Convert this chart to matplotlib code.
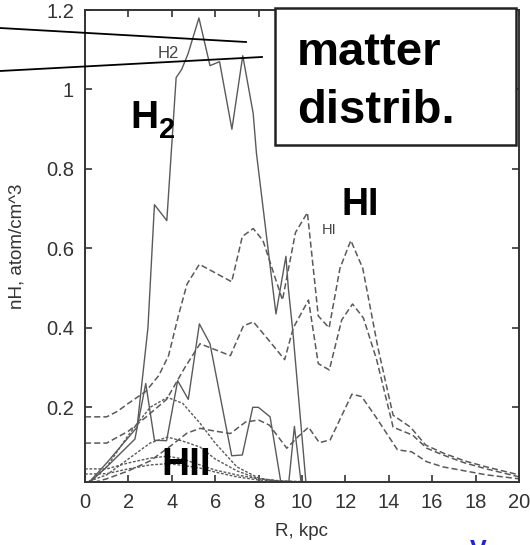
import matplotlib.pyplot as plt
from matplotlib.lines import Line2D
from matplotlib.patches import Rectangle

plt.rcParams['font.family'] = ['Liberation Sans', 'DejaVu Sans']

# H2 (solid lines)
h2_main_r = [0, 1.0, 2.4, 2.9, 3.2, 3.77, 4.2, 4.45, 4.75, 5.25, 5.76, 6.2, 6.77, 7.27,
             7.75, 7.9, 8.8, 9.26, 9.37, 9.58, 10.2]
h2_main_n = [0.0, 0.06, 0.15, 0.40, 0.71, 0.67, 1.03, 1.05, 1.09, 1.18, 1.06, 1.07, 0.90, 1.085,
             0.94, 0.84, 0.435, 0.58, 0.50, 0.39, 0.0]
h2_small_r = [0, 1.0, 2.3, 2.8, 3.2, 3.76, 4.27, 4.76, 5.27, 5.76, 6.76, 7.25, 7.73, 7.99,
              8.53, 9.06, 9.37, 9.65, 9.98]
h2_small_n = [0.0, 0.05, 0.12, 0.26, 0.117, 0.116, 0.267, 0.22, 0.41, 0.36, 0.078, 0.08, 0.20, 0.20,
              0.176, 0.0, 0.0, 0.152, 0.0]

# HI (dashed lines)
hi_top_r = [0, 1.0, 1.5, 2.0, 2.8, 3.4, 3.85, 4.3, 4.7, 5.27, 6.76, 7.25, 7.75, 8.2, 9.1, 9.7,
            10.25, 10.75, 11.25, 11.75, 12.25, 12.8, 13.5, 14.2, 15.0, 15.7, 16.5, 17.5, 18.5, 20]
hi_top_n = [0.176, 0.176, 0.19, 0.21, 0.24, 0.28, 0.33, 0.43, 0.51, 0.56, 0.516, 0.63, 0.65, 0.62,
            0.47, 0.64, 0.69, 0.43, 0.40, 0.55, 0.62, 0.55, 0.35, 0.18, 0.15, 0.105, 0.085, 0.065,
            0.05, 0.03]
hi_mid_r = [0, 1.0, 2.0, 2.8, 3.76, 4.6, 5.3, 6.7, 7.3, 7.76, 8.3, 9.2, 9.6, 10.3, 10.75, 11.26,
            11.83, 12.33, 12.83, 13.44, 14.2, 15.1, 15.75, 16.5, 17.5, 18.5, 20]
hi_mid_n = [0.11, 0.11, 0.14, 0.175, 0.22, 0.30, 0.36, 0.33, 0.405, 0.415, 0.38, 0.32, 0.40, 0.47,
            0.31, 0.294, 0.42, 0.46, 0.425, 0.32, 0.15, 0.13, 0.097, 0.08, 0.06, 0.045, 0.025]
hi_low_r = [0, 1.0, 2.0, 3.0, 4.0, 4.7, 5.3, 6.0, 6.7, 7.4, 8.0, 8.5, 9.3, 9.8, 10.3, 10.8, 11.3,
            12.3, 12.75, 13.4, 14.4, 15.05, 15.75, 16.5, 17.5, 18.5, 20]
hi_low_n = [0.005, 0.02, 0.04, 0.065, 0.105, 0.135, 0.147, 0.14, 0.134, 0.163, 0.168, 0.155, 0.097,
            0.125, 0.15, 0.111, 0.118, 0.233, 0.227, 0.176, 0.093, 0.088, 0.063, 0.05, 0.04, 0.03,
            0.02]

# HII (fine dashed lines)
hii_r = [0, 1, 2, 3, 3.8, 4.5, 5.3, 6, 7, 8, 9, 10, 12, 14, 16, 18, 20]
hii_a = [0.005, 0.05, 0.13, 0.20, 0.225, 0.21, 0.16, 0.11, 0.05, 0.022, 0.013, 0.01, 0.01, 0.01,
         0.01, 0.01, 0.01]
hii_b = [0.01, 0.03, 0.07, 0.11, 0.125, 0.115, 0.10, 0.07, 0.04, 0.02, 0.014, 0.012, 0.011, 0.01,
         0.01, 0.01, 0.01]
hii_c = [0.045, 0.045, 0.06, 0.072, 0.077, 0.07, 0.055, 0.042, 0.03, 0.02, 0.015, 0.013, 0.012,
         0.011, 0.01, 0.01, 0.01]
hii_d = [0.032, 0.033, 0.045, 0.055, 0.058, 0.054, 0.047, 0.037, 0.025, 0.017, 0.014, 0.012, 0.011,
         0.01, 0.01, 0.01, 0.01]

xticks = [0, 2, 4, 6, 8, 10, 12, 14, 16, 18, 20]
yticks = [0.2, 0.4, 0.6, 0.8, 1.0, 1.2]
ytick_labels = ['0.2', '0.4', '0.6', '0.8', '1', '1.2']

gray = '#5a5a5a'
fig = plt.figure(figsize=(5.3, 5.45), dpi=100)
ax = fig.add_axes([0.1604, 0.1156, 0.8188, 0.866])

ax.plot(h2_main_r, h2_main_n, color=gray, lw=1.0)
ax.plot(h2_small_r, h2_small_n, color=gray, lw=1.0)
ax.plot(hi_top_r, hi_top_n, color=gray, lw=1.1, dashes=(4, 2))
ax.plot(hi_mid_r, hi_mid_n, color=gray, lw=1.1, dashes=(4, 2))
ax.plot(hi_low_r, hi_low_n, color=gray, lw=1.1, dashes=(4, 2))
for n in [hii_a, hii_b, hii_c, hii_d]:
    ax.plot(hii_r, n, color=gray, lw=1.0, dashes=(2, 1.2))

ax.set_xlim(0, 20)
ax.set_ylim(0.012, 1.2)
ax.set_xticks(xticks)
ax.set_yticks(yticks)
ax.set_yticklabels(ytick_labels)
ax.tick_params(direction='in', top=True, right=True, length=5, width=1.2, color='#333333',
               labelsize=14.5, labelcolor='#333333', pad=8)
for s in ax.spines.values():
    s.set_linewidth(1.4)
    s.set_color('#333333')
ax.set_xlabel('R, kpc', fontsize=13.5, color='#333333', labelpad=8)
ax.set_ylabel('nH, atom/cm^3', fontsize=13.5, color='#333333', labelpad=15)

# small key labels
ax.text(3.36, 1.08, 'H2', fontsize=12, color='#444444')
ax.text(10.9, 0.635, 'HI', fontsize=10.5, color='#444444')

# big labels
fig.text(130 / 530, 1 - 128 / 545, 'H', fontsize=28, fontweight='bold')
fig.text(159 / 530, 1 - 138 / 545, '2', fontsize=21, fontweight='bold')
fig.text(341 / 530, 1 - 215 / 545, 'HI', fontsize=27, fontweight='bold')
fig.text(161 / 530, 1 - 475 / 545, 'HII', fontsize=28, fontweight='bold')

# annotation box and pointer lines
fig.add_artist(Rectangle((275 / 530, 1 - 145 / 545), 241 / 530, 137 / 545,
                         transform=fig.transFigure, facecolor='white', edgecolor='#222222',
                         lw=1.8, zorder=5))
fig.text(297 / 530, 1 - 65 / 545, 'matter', fontsize=34, fontweight='bold', zorder=6)
fig.text(297 / 530, 1 - 123 / 545, 'distrib.', fontsize=34, fontweight='bold', zorder=6)
fig.add_artist(Line2D([0, 246 / 530], [1 - 28 / 545, 1 - 42 / 545], color='black', lw=1.3,
                      transform=fig.transFigure))
fig.add_artist(Line2D([0, 262 / 530], [1 - 71 / 545, 1 - 57 / 545], color='black', lw=1.3,
                      transform=fig.transFigure))

# partly visible mark at the lower edge, as in the original slide
fig.text(470 / 530, 1 - 539 / 545, 'V', fontsize=18, fontweight='bold', color='#2222dd', va='top')

fig.savefig('out.png', dpi=100)
plt.close(fig)
